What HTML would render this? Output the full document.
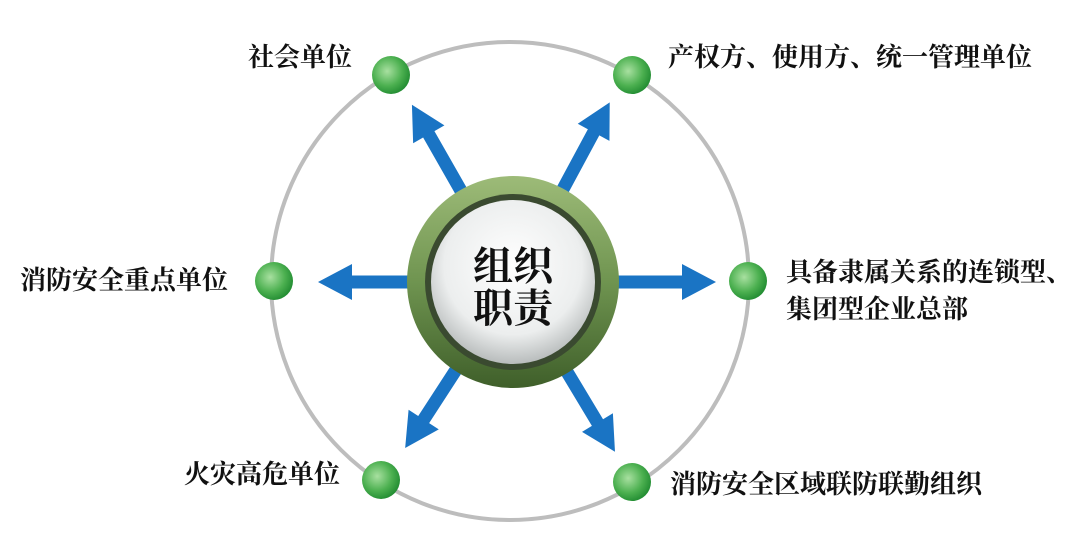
<!DOCTYPE html>
<html><head><meta charset="utf-8"><style>
html,body{margin:0;padding:0;background:#fff;}
svg{display:block}
text{font-family:"Liberation Serif","Noto Serif CJK SC",serif;fill:#111;font-weight:bold;}
</style></head><body>
<svg width="1080" height="537" viewBox="0 0 1080 537" xmlns="http://www.w3.org/2000/svg">
<defs>
<radialGradient id="dot" cx="0.4" cy="0.4" r="0.65">
<stop offset="0" stop-color="#a8e0a0"/><stop offset="0.6" stop-color="#4cb050"/><stop offset="1" stop-color="#1f8a30"/>
</radialGradient>
<linearGradient id="ring" x1="0" y1="0" x2="0" y2="1">
<stop offset="0" stop-color="#9dbb78"/><stop offset="0.5" stop-color="#6f9450"/><stop offset="1" stop-color="#3f5f2a"/>
</linearGradient>
<radialGradient id="inner" cx="0.5" cy="0.4" r="0.6">
<stop offset="0" stop-color="#ffffff"/><stop offset="0.7" stop-color="#eceeee"/><stop offset="1" stop-color="#b8bcbc"/>
</radialGradient>
</defs>
<circle cx="510" cy="281" r="239" fill="none" stroke="#bdbdbd" stroke-width="4"/>
<g fill="#1a74c4">
<g transform="translate(513,282) rotate(-119.7)"><polygon points="0,-6.5 170,-6.5 170,-18 204,0 170,18 170,6.5 0,6.5"/></g>
<g transform="translate(513,282) rotate(-61.7)"><polygon points="0,-6.5 170,-6.5 170,-18 204,0 170,18 170,6.5 0,6.5"/></g>
<g transform="translate(513,282) rotate(180)"><polygon points="0,-6.5 161,-6.5 161,-18 195,0 161,18 161,6.5 0,6.5"/></g>
<g transform="translate(513,282) rotate(0)"><polygon points="0,-6.5 169,-6.5 169,-18 203,0 169,18 169,6.5 0,6.5"/></g>
<g transform="translate(513,282) rotate(123)"><polygon points="0,-6.5 164,-6.5 164,-18 198,0 164,18 164,6.5 0,6.5"/></g>
<g transform="translate(513,282) rotate(59)"><polygon points="0,-6.5 164,-6.5 164,-18 198,0 164,18 164,6.5 0,6.5"/></g>
</g>
<circle cx="513" cy="282" r="106" fill="url(#ring)"/>
<circle cx="513" cy="282" r="88" fill="#3a4a30"/>
<circle cx="513" cy="282" r="82" fill="url(#inner)"/>
<text x="513" y="280" font-size="40" text-anchor="middle">组织</text>
<text x="513" y="322" font-size="40" text-anchor="middle">职责</text>
<g fill="url(#dot)">
<circle cx="391" cy="75" r="19"/><circle cx="632" cy="75" r="19"/>
<circle cx="274" cy="281" r="19"/><circle cx="748" cy="281" r="19"/>
<circle cx="381" cy="480" r="19"/><circle cx="632" cy="482" r="19"/>
</g>
<g font-size="26">
<text x="248" y="66">社会单位</text>
<text x="668" y="66">产权方、使用方、统一管理单位</text>
<text x="20" y="289">消防安全重点单位</text>
<text x="786" y="281">具备隶属关系的连锁型、</text>
<text x="786" y="318">集团型企业总部</text>
<text x="184" y="483">火灾高危单位</text>
<text x="670" y="493">消防安全区域联防联勤组织</text>
</g>
</svg>
</body></html>
